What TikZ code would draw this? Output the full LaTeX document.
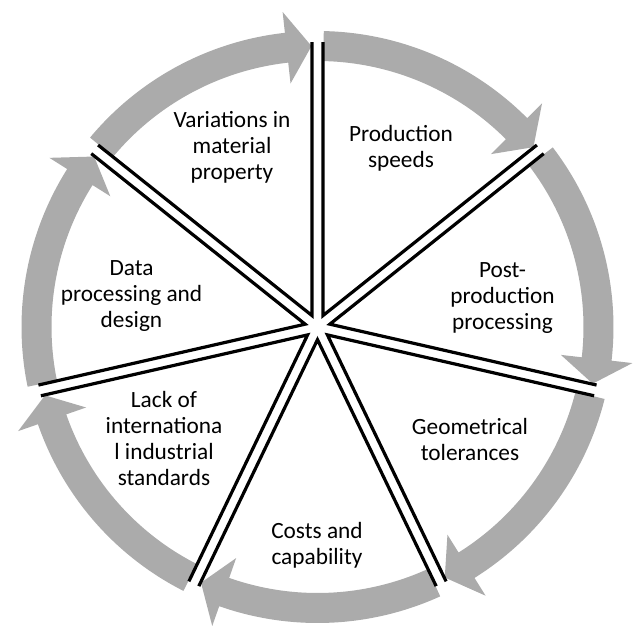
\documentclass[tikz,border=0pt]{standalone}
\usepackage{fontspec}
\setmainfont{Carlito}
\usetikzlibrary{calc}
\definecolor{ringgray}{RGB}{171,171,171}
\tikzset{
  cyclearrow/.style={fill=ringgray, draw=none},
  divider/.style={draw=black, line width=3.2pt, line join=miter, line cap=butt},
  label/.style={align=center, inner sep=0pt, font=\fontsize{23.3}{26}\selectfont}
}
\begin{document}
\begin{tikzpicture}[x=1pt, y=1pt]
  \useasboundingbox (-317.5,-298) rectangle (315.5,327);
  % sector geometry
  \def\sect{51.4286}
  \def\rin{266}\def\rout{296}\def\rmid{281}
  \def\hin{245}\def\hout{317}
  \def\gapang{1.22}\def\headang{5.1}
  % seven curved block arrows running clockwise round the ring
  \foreach \k in {0,...,6}{
    \pgfmathsetmacro\sa{90-\k*\sect-\gapang}
    \pgfmathsetmacro\ta{90-(\k+1)*\sect+\gapang}
    \pgfmathsetmacro\ba{\ta+\headang}
    \path[cyclearrow] (\sa:\rout) arc[start angle=\sa, end angle=\ba, radius=\rout]
      -- (\ba:\hout) -- (\ta:\rmid) -- (\ba:\hin) -- (\ba:\rin)
      arc[start angle=\ba, end angle=\sa, radius=\rin] -- cycle;
  }
  % double-line dividers: each slice outlined along its two radial edges
  \foreach \j in {0,...,6}{
    \pgfmathsetmacro\aa{90-\j*\sect}
    \pgfmathsetmacro\ab{90-(\j+1)*\sect}
    \pgfmathsetmacro\am{\aa-\sect/2}
    \draw[divider] ($(\aa:285)+(\aa-90:5.5)$) -- (\am:12.68) -- ($(\ab:285)+(\ab+90:5.5)$);
  }
  % sector labels
  \node[label] (variations) at (-85.5,180) {Variations in\\material\\property};
  \node[label] (speeds) at (83.5,179) {Production\\speeds};
  \node[label] (postprod) at (185,29) {Post-\\production\\processing};
  \node[label] (tolerances) at (152.5,-112) {Geometrical\\tolerances};
  \node[label] (costs) at (-0.5,-218) {Costs and\\capability};
  \node[label] (standards) at (-153.5,-111.5) {Lack of\\internationa\\l industrial\\standards};
  \node[label] (dataproc) at (-186,31) {Data\\processing and\\design};
\end{tikzpicture}
\end{document}
